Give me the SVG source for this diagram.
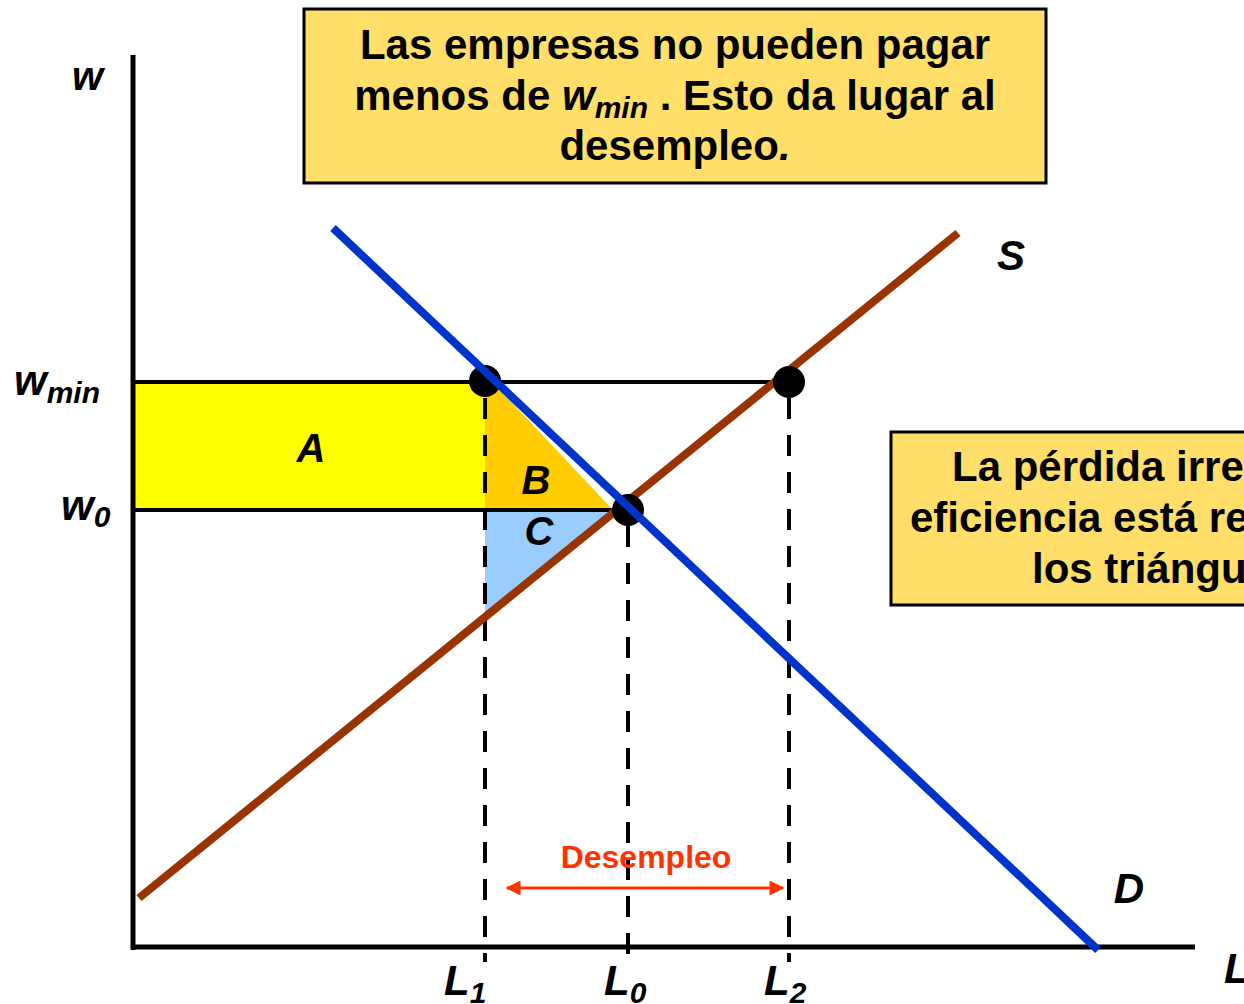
<svg xmlns="http://www.w3.org/2000/svg" width="1244" height="1004" viewBox="0 0 1244 1004">
<style>
text{font-family:"Liberation Sans",Arial,sans-serif;font-weight:bold;fill:#000}
.it{font-style:italic}
.box{fill:#FFDE6A;stroke:#000;stroke-width:3}
.ax{stroke:#000;stroke-width:5;fill:none}
.h{stroke:#000;stroke-width:4;fill:none}
.dash{stroke:#000;stroke-width:4;stroke-dasharray:21 16;fill:none}
.dot{fill:#000}
</style>
<defs>
<marker id="ah" viewBox="0 0 10 10" refX="9" refY="5" markerWidth="7" markerHeight="5" orient="auto-start-reverse" markerUnits="strokeWidth">
<path d="M0,0 L10,5 L0,10 z" fill="#FF3300"/>
</marker>
</defs>
<rect width="1244" height="1004" fill="#fff"/>

<g id="areas">
<rect id="area-A" x="133" y="382" width="352" height="128" fill="#FFFF00"/>
<polygon id="area-B" points="485,374 485,510 613,510" fill="#FFCC00"/>
<polygon id="area-C" points="485,510 613,510 485,617" fill="#99CCFF"/>
</g>

<g id="connectors">
<line class="h" x1="133" y1="382" x2="789" y2="382"/>
<line class="h" x1="133" y1="510" x2="628" y2="510"/>
<line class="dash" x1="485" y1="398" x2="485" y2="962"/>
<line class="dash" x1="628" y1="526" x2="628" y2="960"/>
<line class="dash" x1="789" y1="398" x2="789" y2="962"/>
<line class="ax" x1="133" y1="55" x2="133" y2="950"/>
<line class="ax" x1="131" y1="947" x2="1195" y2="947"/>
<line id="curve-S" x1="139" y1="898" x2="958" y2="233" stroke="#993300" stroke-width="8"/>
<line id="arrow-desempleo" x1="507" y1="888" x2="783" y2="888" stroke="#FF3300" stroke-width="3" marker-start="url(#ah)" marker-end="url(#ah)"/>
</g>

<g id="points">
<circle class="dot" cx="485" cy="381" r="16"/>
<circle class="dot" cx="628" cy="510" r="16"/>
<circle class="dot" cx="789" cy="382" r="16"/>
</g>

<g id="curve-D-group">
<line id="curve-D" x1="333" y1="228" x2="1098" y2="950" stroke="#0033CC" stroke-width="8"/>
</g>

<g id="labels">
<text class="it" x="72" y="90" font-size="40">w</text>
<text class="it" x="14" y="395" font-size="42">w<tspan font-size="30" dy="8">min</tspan></text>
<text class="it" x="61" y="520" font-size="42">w<tspan font-size="30" dy="7">0</tspan></text>
<text class="it" x="311" y="462" font-size="40" text-anchor="middle">A</text>
<text class="it" x="536" y="494" font-size="40" text-anchor="middle">B</text>
<text class="it" x="539" y="545" font-size="40" text-anchor="middle">C</text>
<text class="it" x="1011" y="270" font-size="42" text-anchor="middle">S</text>
<text class="it" x="1129" y="903" font-size="42" text-anchor="middle">D</text>
<text class="it" x="444" y="995" font-size="42">L<tspan font-size="30" dy="8">1</tspan></text>
<text class="it" x="604" y="995" font-size="42">L<tspan font-size="30" dy="8">0</tspan></text>
<text class="it" x="764" y="995" font-size="42">L<tspan font-size="30" dy="8">2</tspan></text>
<text class="it" x="1224" y="983" font-size="42">L</text>
<text x="646" y="868" font-size="32" text-anchor="middle" style="fill:#FF3300">Desempleo</text>
</g>

<g id="note-top">
<rect class="box" x="304" y="9" width="742" height="174"/>
<text x="675" y="59" font-size="42" text-anchor="middle">Las empresas no pueden pagar</text>
<text x="675" y="110" font-size="42" text-anchor="middle">menos de <tspan class="it">w</tspan><tspan class="it" font-size="30" dy="8">min</tspan><tspan dy="-8"> . Esto da lugar al</tspan></text>
<text x="675" y="160" font-size="42" text-anchor="middle">desempleo<tspan class="it">.</tspan></text>
</g>

<g id="note-right">
<rect class="box" x="891" y="432" width="360" height="173"/>
<text x="952" y="481" font-size="42">La pérdida irre</text>
<text x="910" y="532" font-size="42">eficiencia está re</text>
<text x="1032" y="583" font-size="42">los triángu</text>
</g>
</svg>
